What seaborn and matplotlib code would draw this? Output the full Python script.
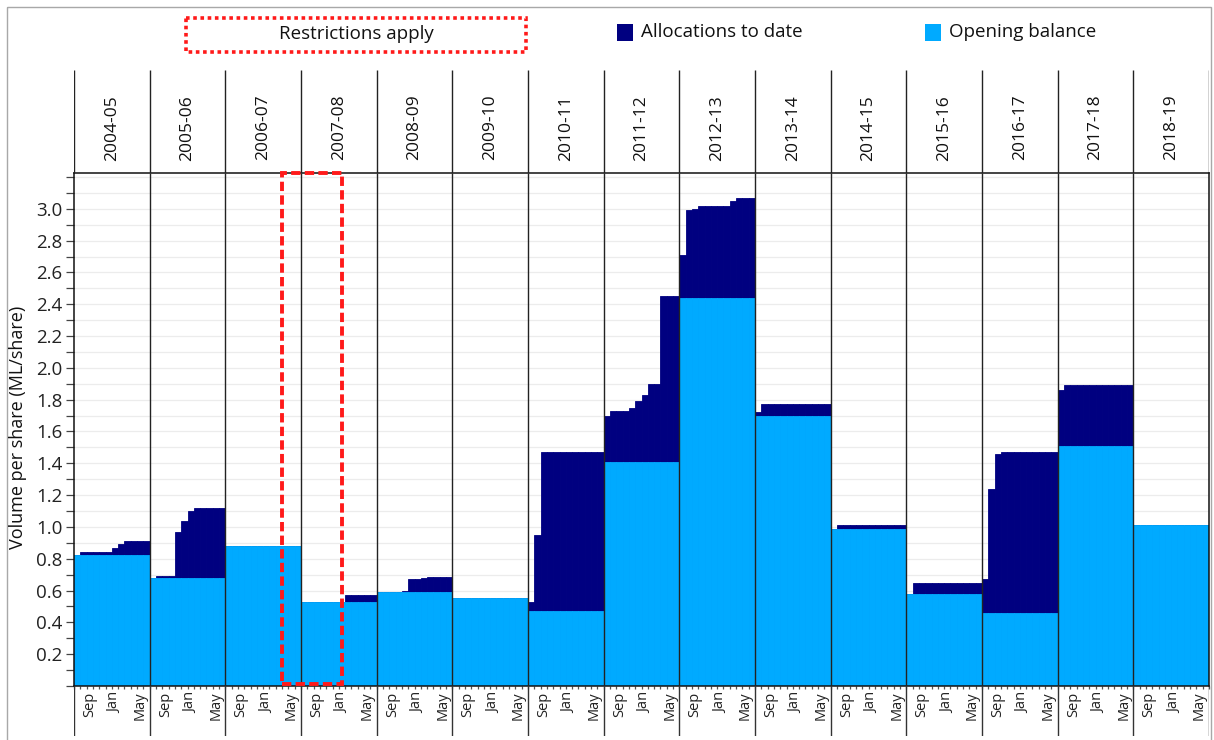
import numpy as np
import pandas as pd
import matplotlib
matplotlib.use("Agg")
import matplotlib.pyplot as plt
import seaborn as sns
from matplotlib.patches import Rectangle
from matplotlib.ticker import FixedLocator, MultipleLocator

# ---------------- data ----------------
years = ["2004-05", "2005-06", "2006-07", "2007-08", "2008-09", "2009-10", "2010-11",
         "2011-12", "2012-13", "2013-14", "2014-15", "2015-16", "2016-17", "2017-18", "2018-19"]
months = ["Jul", "Aug", "Sep", "Oct", "Nov", "Dec", "Jan", "Feb", "Mar", "Apr", "May", "Jun"]
shown_months = ["Sep", "Jan", "May"]

opening_balance = [0.825, 0.68, 0.88, 0.525, 0.59, 0.555, 0.47,
                   1.41, 2.44, 1.70, 0.99, 0.58, 0.46, 1.51, 1.01]

# opening balance + allocations to date, month by month (Jul..Jun)
total_2004_05 = [0.825, 0.845, 0.845, 0.845, 0.845, 0.845, 0.87, 0.895, 0.91, 0.91, 0.91, 0.91]
total_2005_06 = [0.68, 0.69, 0.69, 0.69, 0.97, 1.04, 1.10, 1.12, 1.12, 1.12, 1.12, 1.12]
total_2006_07 = [0.88, 0.88, 0.88, 0.88, 0.88, 0.88, 0.88, 0.88, 0.88, 0.88, 0.88, 0.88]
total_2007_08 = [0.525, 0.525, 0.525, 0.525, 0.525, 0.525, 0.525, 0.57, 0.57, 0.57, 0.57, 0.57]
total_2008_09 = [0.59, 0.59, 0.59, 0.59, 0.595, 0.67, 0.67, 0.677, 0.685, 0.685, 0.685, 0.685]
total_2009_10 = [0.555, 0.555, 0.555, 0.555, 0.555, 0.555, 0.555, 0.555, 0.555, 0.555, 0.555, 0.555]
total_2010_11 = [0.53, 0.95, 1.47, 1.47, 1.47, 1.47, 1.47, 1.47, 1.47, 1.47, 1.47, 1.47]
total_2011_12 = [1.70, 1.73, 1.73, 1.73, 1.75, 1.79, 1.83, 1.90, 1.90, 2.45, 2.45, 2.45]
total_2012_13 = [2.71, 2.99, 3.00, 3.02, 3.02, 3.02, 3.02, 3.02, 3.05, 3.07, 3.07, 3.07]
total_2013_14 = [1.72, 1.77, 1.77, 1.77, 1.77, 1.77, 1.77, 1.77, 1.77, 1.77, 1.77, 1.77]
total_2014_15 = [0.99, 1.01, 1.01, 1.01, 1.01, 1.01, 1.01, 1.01, 1.01, 1.01, 1.01, 1.01]
total_2015_16 = [0.58, 0.645, 0.645, 0.645, 0.645, 0.645, 0.645, 0.645, 0.645, 0.645, 0.645, 0.645]
total_2016_17 = [0.67, 1.24, 1.46, 1.47, 1.47, 1.47, 1.47, 1.47, 1.47, 1.47, 1.47, 1.47]
total_2017_18 = [1.86, 1.89, 1.89, 1.89, 1.89, 1.89, 1.89, 1.89, 1.89, 1.89, 1.89, 1.89]
total_2018_19 = [1.01, 1.01, 1.01, 1.01, 1.01, 1.01, 1.01, 1.01, 1.01, 1.01, 1.01, 1.01]

totals = [total_2004_05, total_2005_06, total_2006_07, total_2007_08, total_2008_09,
          total_2009_10, total_2010_11, total_2011_12, total_2012_13, total_2013_14,
          total_2014_15, total_2015_16, total_2016_17, total_2017_18, total_2018_19]

# restriction period: from Apr 2006-07 to mid Jan 2007-08
restriction_from = ("2006-07", "Apr", 0.0)
restriction_to = ("2007-08", "Jan", 0.5)

legend_labels = ["Restrictions apply", "Allocations to date", "Opening balance"]
y_label = "Volume per share (ML/share)"

NAVY = "#000080"
LIGHT = "#00AAFF"

# ---------------- table ----------------
rows = []
for yi, yr in enumerate(years):
    for mi, m in enumerate(months):
        rows.append({"pos": yi * 12 + mi + 0.5, "year": yr, "month": m,
                     "total": totals[yi][mi], "opening": opening_balance[yi]})
df = pd.DataFrame(rows)

n_months = len(years) * 12
YMAX = 3.225

# ---------------- figure ----------------
sns.set_style("white")
plt.rcParams["font.family"] = ["Open Sans", "DejaVu Sans"]

W, H = 1214, 740
fig = plt.figure(figsize=(W / 100, H / 100), dpi=100)


def fr(x0, y0, x1, y1):
    return [x0 / W, 1 - y1 / H, (x1 - x0) / W, (y1 - y0) / H]


PX0, PX1 = 74, 1209
ax = fig.add_axes(fr(PX0, 173, PX1, 686))

sns.barplot(data=df, x="pos", y="total", native_scale=True, width=1, color=NAVY,
            saturation=1, linewidth=0.6, edgecolor=NAVY, errorbar=None, ax=ax, zorder=2)
sns.barplot(data=df, x="pos", y="opening", native_scale=True, width=1, color=LIGHT,
            saturation=1, linewidth=0.6, edgecolor=LIGHT, errorbar=None, ax=ax, zorder=2)

ax.set_xlim(0, n_months)
ax.set_ylim(0, YMAX)
ax.set_xlabel("")
ax.set_ylabel("")

# y axis
ax.yaxis.set_major_locator(FixedLocator(np.round(np.arange(0.2, 3.01, 0.2), 1)))
ax.yaxis.set_minor_locator(MultipleLocator(0.1))
ax.yaxis.set_major_formatter(matplotlib.ticker.FormatStrFormatter("%.1f"))
ax.tick_params(axis="y", which="both", direction="out", length=6, width=0.9,
               color="#444444", labelsize=13.5, labelcolor="#222222", pad=2.5, left=True)
ax.grid(axis="y", which="minor", color="#ececec", lw=0.9)
ax.grid(axis="y", which="major", color="#ececec", lw=0.9)
ax.grid(axis="x", visible=False)
ax.set_axisbelow(True)

# x axis: month labels
tick_pos, tick_lab = [], []
for yi in range(len(years)):
    for m in shown_months:
        tick_pos.append(yi * 12 + months.index(m) + 0.5)
        tick_lab.append(m)
ax.xaxis.set_major_locator(FixedLocator(tick_pos))
ax.set_xticklabels(tick_lab, rotation=90, fontsize=10.5, color="#222222")
ax.xaxis.set_minor_locator(FixedLocator(np.arange(0, n_months + 1, 1)))
ax.tick_params(axis="x", which="major", length=0, pad=4, bottom=True)
ax.tick_params(axis="x", which="minor", length=2.5, width=0.9, color="#555555", bottom=True)

for s in ax.spines.values():
    s.set_color("#111111")
    s.set_linewidth(1.1)

# panel separators
ax.vlines(np.arange(12, n_months, 12), 0, YMAX, colors="#222222", lw=1.0, zorder=3)

# restriction box
x0 = years.index(restriction_from[0]) * 12 + months.index(restriction_from[1]) + restriction_from[2]
x1 = years.index(restriction_to[0]) * 12 + months.index(restriction_to[1]) + restriction_to[2]
ax.add_patch(Rectangle((x0, 0.012), x1 - x0, YMAX - 0.012, fill=False, edgecolor="#FF1A1A",
                       lw=2.8, linestyle=(0, (2.4, 1.1)), zorder=5, clip_on=False))

# header with year labels
hx = fig.add_axes(fr(PX0, 70, PX1, 173))
hx.set_xlim(0, n_months)
hx.set_ylim(0, 1)
hx.axis("off")
hx.vlines(np.arange(0, n_months + 1, 12), 0, 1, colors="#222222", lw=1.0)
for yi, yr in enumerate(years):
    hx.text(yi * 12 + 6, 0.44, yr, rotation=90, ha="center", va="center",
            fontsize=12.5, color="#111111")

# footer separators
fx = fig.add_axes(fr(PX0, 686, PX1, 736))
fx.set_xlim(0, n_months)
fx.set_ylim(0, 1)
fx.axis("off")
fx.vlines(np.arange(0, n_months + 1, 12), 0, 1, colors="#333333", lw=1.0)

# overlay in pixel coordinates: border and legend
ov = fig.add_axes([0, 0, 1, 1], zorder=-1)
ov.set_xlim(0, W)
ov.set_ylim(H, 0)
ov.axis("off")
ov.add_patch(Rectangle((7, 7), 1204, 760, fill=False, edgecolor="#a8a8a8", lw=1.0))

ov.add_patch(Rectangle((186, 18), 340, 34, fill=False, edgecolor="#FF1A1A", lw=2.6,
                       linestyle=(0, (1, 1))))
ov.text(356, 34, legend_labels[0], ha="center", va="center", fontsize=13.5, color="#111111")

ov.add_patch(Rectangle((617, 24), 16, 17, facecolor=NAVY, edgecolor="none"))
ov.text(641, 32, legend_labels[1], ha="left", va="center", fontsize=13.5, color="#111111")
ov.add_patch(Rectangle((925, 24), 16, 17, facecolor=LIGHT, edgecolor="none"))
ov.text(949, 32, legend_labels[2], ha="left", va="center", fontsize=13.5, color="#111111")

fig.text(18 / W, 1 - 427 / H, y_label, rotation=90, ha="center", va="center",
         fontsize=13, color="#111111")

fig.savefig("out.png", dpi=100)
